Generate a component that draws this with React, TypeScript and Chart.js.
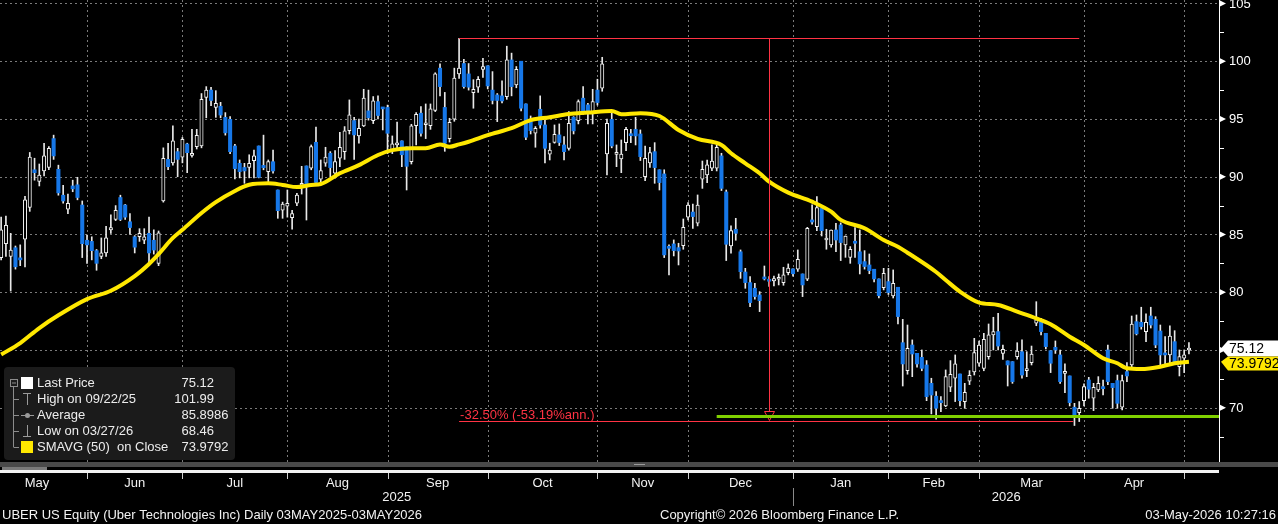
import React, { useEffect, useRef } from 'react';
import { Chart, registerables } from 'chart.js';

Chart.register(...registerables);

// daily OHLC, one entry per trading day (index 0 = first day on screen)
const opens = [
  83.0, 84.2, 83.1, 83.85, 82.9, 84.6, 87.35, 90.6, 89.6, 90.5,
  90.8, 93.3, 90.64, 88.4, 87.2, 89.2, 89.3, 87.55, 84.5, 84.4,
  83.6, 83.1, 83.4, 85.4, 86.3, 88.2, 87.55, 86.1, 84.8, 84.8,
  84.5, 85.1, 84.5, 82.5, 87.9, 91.5, 91.2, 92.17, 91.7, 92.83,
  91.85, 92.6, 92.66, 96.87, 97.5, 96.0, 96.1, 95.14, 94.97, 92.66,
  91.16, 90.8, 90.8, 91.39, 92.66, 90.98, 90.44, 91.3, 88.85, 87.1,
  87.46, 86.45, 87.7, 89.26, 90.93, 90.73, 92.98, 89.78, 91.17, 92.03,
  90.3, 91.6, 92.17, 93.99, 94.86, 93.53, 94.4, 95.7, 94.86, 96.5,
  96.0, 96.0, 92.3, 92.75, 93.1, 92.6, 91.3, 94.43, 95.5, 94.5,
  94.43, 95.73, 99.4, 96.0, 93.3, 94.98, 98.9, 99.8, 98.9, 97.28,
  97.75, 99.3, 99.6, 97.5, 97.08, 97.0, 96.94, 100.11, 97.95, 100.0,
  96.3, 94.77, 93.76, 95.84, 94.48, 91.95, 92.96, 93.62, 92.75, 92.44,
  95.15, 94.86, 96.8, 96.22, 95.44, 97.5, 97.66, 91.97, 94.97, 91.94,
  91.54, 92.95, 93.6, 94.1, 93.7, 90.0, 91.2, 92.17, 90.6, 90.24,
  83.95, 84.18, 83.86, 84.03, 86.49, 86.94, 85.97, 89.78, 90.15, 90.73,
  90.73, 91.8, 88.68, 84.0, 85.45, 83.5, 81.75, 80.83, 80.34, 79.76,
  81.29, 81.05, 80.98, 81.12, 80.83, 81.7, 82.02, 81.99, 81.58, 81.12,
  86.26, 85.68, 87.27, 84.52, 84.09, 85.39, 85.82, 84.09, 83.02, 84.38,
  83.5, 82.65, 82.36, 81.99, 81.15, 80.4, 80.92, 79.68, 80.43, 75.63,
  73.21, 75.43, 74.71, 74.36, 73.7, 72.11, 71.0, 70.58, 70.15, 71.77,
  72.55, 72.92, 70.53, 72.29, 73.09, 73.85, 73.41, 74.42, 76.3, 76.59,
  74.71, 74.05, 73.99, 74.42, 74.85, 73.21, 73.9, 77.31, 77.45, 76.44,
  74.94, 75.23, 74.57, 72.98, 72.75, 70.04, 69.57, 70.61, 72.4, 70.82,
  71.54, 71.74, 75.0, 72.11, 72.35, 70.04, 73.12, 73.7, 77.45, 77.4,
  76.59, 77.94, 77.65, 76.64, 74.71, 74.57, 75.72, 73.56, 74.28, 75.0,
];
const highs = [
  86.5, 86.6, 85.1, 84.0, 84.1, 88.3, 92.1, 91.6, 91.1, 92.9,
  92.6, 93.6, 91.0, 89.25, 88.5, 89.7, 89.95, 87.9, 84.95, 84.8,
  83.7, 84.7, 85.7, 86.7, 87.5, 88.4, 87.6, 86.8, 84.9, 85.5,
  85.5, 86.5, 85.4, 85.3, 92.5, 92.9, 94.4, 92.46, 93.4, 92.9,
  94.1, 94.1, 97.2, 97.8, 97.74, 97.45, 96.44, 95.55, 95.2, 92.8,
  91.45, 91.16, 91.9, 92.3, 92.66, 93.6, 91.45, 92.3, 88.85, 87.8,
  88.85, 87.1, 88.56, 90.9, 90.93, 92.75, 94.3, 91.45, 92.55, 92.17,
  92.26, 93.85, 94.34, 96.65, 95.15, 94.98, 97.57, 97.5, 96.94, 97.0,
  96.0, 96.2, 93.53, 94.74, 93.1, 92.6, 94.54, 95.55, 96.07, 96.3,
  96.3, 99.0, 99.77, 97.3, 95.06, 99.4, 101.99, 100.17, 99.8, 98.4,
  98.67, 100.26, 99.6, 99.1, 97.2, 98.3, 101.3, 100.7, 99.54, 100.0,
  96.3, 95.26, 94.34, 97.0, 94.9, 92.9, 94.48, 94.57, 93.47, 95.64,
  95.2, 96.65, 97.8, 96.36, 97.57, 98.44, 100.34, 94.98, 95.5, 92.75,
  93.18, 94.28, 94.1, 95.14, 94.05, 92.66, 92.55, 92.95, 90.6, 90.6,
  84.1, 84.53, 84.24, 86.34, 87.76, 87.64, 88.42, 91.36, 91.45, 92.75,
  92.75, 92.03, 88.85, 85.74, 86.4, 83.66, 82.07, 81.35, 80.77, 80.05,
  82.27, 81.35, 81.4, 81.58, 82.16, 82.45, 82.02, 83.66, 81.58, 85.62,
  87.56, 88.28, 87.27, 85.45, 85.39, 85.97, 86.0, 84.87, 83.95, 85.6,
  85.39, 83.6, 83.31, 81.99, 81.15, 82.07, 82.07, 81.93, 80.43, 77.65,
  77.16, 75.87, 74.71, 75.0, 74.08, 72.55, 71.39, 70.96, 73.27, 74.08,
  74.57, 72.92, 72.11, 73.21, 76.01, 75.78, 76.44, 77.25, 77.83, 78.17,
  75.43, 74.05, 73.99, 75.63, 75.87, 74.85, 75.34, 79.18, 77.74, 76.44,
  74.94, 75.78, 75.0, 73.79, 72.75, 70.38, 70.53, 72.06, 72.63, 72.11,
  72.69, 72.4, 75.43, 72.11, 72.83, 72.83, 73.9, 77.94, 78.03, 78.7,
  78.12, 78.7, 77.88, 77.16, 76.15, 77.08, 76.67, 75.0, 75.0, 75.63,
];
const lows = [
  82.8, 83.1, 80.1, 82.0, 82.3, 82.2, 87.0, 89.7, 89.2, 90.06,
  90.6, 91.5, 88.4, 87.7, 86.8, 88.7, 88.0, 83.0, 82.5, 82.8,
  81.9, 82.9, 83.1, 85.1, 86.2, 86.2, 86.3, 85.0, 83.4, 84.4,
  84.2, 82.35, 83.3, 82.3, 87.8, 90.6, 91.0, 90.0, 91.2, 90.35,
  91.7, 92.4, 92.5, 95.1, 96.15, 95.14, 95.1, 93.6, 92.0, 89.8,
  89.9, 89.43, 89.9, 89.9, 89.9, 90.6, 89.4, 90.3, 86.4, 86.4,
  86.5, 85.45, 87.5, 88.5, 86.25, 90.6, 89.3, 89.5, 90.9, 90.0,
  89.87, 90.88, 91.5, 93.7, 91.5, 92.9, 94.34, 94.9, 94.6, 95.0,
  94.05, 92.0, 92.0, 92.5, 90.88, 88.85, 91.1, 92.75, 93.5, 93.3,
  94.1, 95.64, 97.0, 92.2, 93.0, 94.8, 98.5, 97.66, 97.5, 95.93,
  97.3, 98.6, 97.6, 96.3, 94.77, 96.4, 96.7, 97.0, 97.7, 95.7,
  93.2, 93.7, 92.55, 94.2, 91.2, 91.45, 92.9, 92.7, 91.45, 92.3,
  93.7, 94.57, 95.4, 94.57, 94.57, 96.2, 97.4, 90.16, 92.5, 90.87,
  90.35, 92.25, 92.95, 92.75, 91.4, 89.66, 90.8, 89.43, 88.85, 83.0,
  81.5, 83.14, 82.36, 83.72, 86.25, 85.53, 85.74, 88.99, 89.49, 90.53,
  90.5, 88.8, 82.74, 83.37, 84.5, 81.2, 80.34, 78.75, 79.4, 78.32,
  81.06, 80.5, 80.54, 80.63, 80.6, 81.5, 81.4, 81.8, 79.62, 81.0,
  85.9, 85.33, 84.87, 83.72, 83.9, 83.5, 82.74, 83.02, 82.5, 83.02,
  81.58, 82.0, 81.6, 80.9, 79.5, 80.2, 79.8, 79.5, 77.25, 71.88,
  72.9, 72.69, 73.5, 73.2, 70.61, 69.46, 69.0, 69.66, 70.09, 71.39,
  70.53, 70.15, 69.95, 72.0, 72.83, 73.6, 73.2, 74.2, 75.0, 75.0,
  74.19, 71.88, 72.11, 74.2, 72.55, 72.69, 73.7, 77.1, 76.3, 75.1,
  73.04, 74.7, 72.11, 71.3, 70.15, 68.46, 68.8, 70.15, 70.82, 69.75,
  71.39, 71.1, 72.0, 69.95, 69.95, 69.81, 72.26, 73.5, 76.3, 76.8,
  75.72, 76.9, 75.2, 73.7, 73.7, 73.7, 73.8, 72.75, 73.04, 74.65,
];
const closes = [
  85.4, 85.8, 83.65, 82.2, 82.8, 88.0, 91.7, 90.35, 90.15, 91.8,
  92.46, 91.8, 88.6, 87.9, 87.7, 88.95, 88.2, 84.2, 84.1, 83.6,
  82.5, 83.4, 84.7, 85.6, 87.1, 86.3, 86.5, 85.6, 83.9, 85.1,
  84.8, 83.4, 83.65, 85.15, 91.6, 90.87, 93.1, 91.5, 93.24, 92.08,
  92.0, 93.58, 96.7, 97.5, 96.6, 96.35, 95.34, 93.8, 92.17, 90.7,
  90.44, 90.5, 91.16, 91.8, 89.95, 90.78, 91.3, 90.5, 87.06, 87.64,
  87.7, 86.8, 88.4, 89.4, 89.3, 92.6, 89.5, 90.53, 91.7, 90.79,
  91.3, 92.55, 93.97, 95.35, 93.62, 94.2, 96.8, 95.1, 96.56, 95.3,
  95.87, 93.76, 92.84, 92.9, 91.9, 90.9, 94.4, 95.4, 93.76, 94.63,
  95.87, 98.9, 97.8, 92.9, 94.7, 98.53, 99.4, 97.8, 97.75, 97.57,
  98.44, 99.54, 97.86, 96.6, 96.6, 96.56, 100.11, 97.8, 99.3, 95.93,
  93.42, 93.99, 94.2, 94.48, 92.46, 92.3, 93.68, 92.96, 92.17, 94.63,
  93.97, 96.5, 95.64, 95.64, 96.5, 96.42, 99.77, 94.63, 92.66, 92.12,
  91.97, 94.1, 93.55, 93.53, 91.74, 91.6, 92.1, 90.79, 89.49, 83.23,
  83.8, 83.6, 83.57, 85.62, 87.55, 86.55, 87.55, 90.64, 91.02, 91.36,
  92.55, 88.99, 84.15, 85.33, 85.1, 81.78, 80.83, 79.1, 79.62, 79.27,
  81.15, 80.95, 81.18, 81.26, 81.5, 82.1, 81.6, 82.85, 80.63, 85.54,
  86.08, 87.32, 85.33, 84.67, 85.39, 84.52, 84.3, 84.87, 83.72, 84.24,
  82.45, 82.22, 81.87, 81.15, 79.7, 81.64, 79.97, 80.77, 77.89, 73.79,
  75.14, 74.65, 73.79, 73.41, 70.96, 71.1, 69.95, 70.44, 72.69, 72.89,
  73.79, 70.61, 71.33, 72.81, 74.77, 75.43, 75.92, 76.3, 76.59, 75.34,
  75.06, 73.7, 72.26, 74.91, 72.83, 73.33, 74.65, 77.6, 76.59, 75.29,
  73.85, 75.0, 72.26, 73.0, 70.44, 69.29, 69.95, 71.82, 71.6, 71.77,
  72.11, 71.65, 72.26, 71.74, 70.38, 72.35, 72.75, 77.25, 76.4, 77.02,
  77.4, 77.16, 75.43, 74.57, 74.57, 76.21, 73.99, 74.42, 74.57, 75.12,
];

// 50-day simple moving average, read at selected days
const smaDays = [
  0, 4, 8, 12, 18, 23, 28, 31, 33, 36, 38, 42, 45, 49, 52, 56, 59, 62, 65, 67,
  71, 75, 79, 82, 86, 89, 92, 94, 96, 98, 102, 107, 111, 115, 119, 123, 128, 130, 134, 138,
  142, 146, 151, 153, 156, 159, 161, 165, 170, 174, 176, 181, 185, 188, 190, 196, 198, 201, 205, 209,
  213, 217, 220, 224, 227, 231, 234, 236, 239, 243, 246, 249,
];
const smaValues = [
  74.6, 75.6, 76.9, 78.0, 79.4, 80.13, 81.4, 82.45, 83.3, 84.7, 85.4, 86.86, 87.8, 88.77, 89.3, 89.43, 89.29, 89.1, 89.29, 89.37,
  90.3, 91.0, 91.88, 92.3, 92.46, 92.46, 92.8, 92.6, 92.8, 93.03, 93.6, 94.2, 94.9, 95.15, 95.43, 95.55, 95.7, 95.4, 95.5, 95.26,
  94.05, 93.27, 92.75, 92.03, 91.16, 90.3, 89.57, 88.62, 87.84, 86.97, 86.26, 85.54, 84.52, 83.94, 83.42, 81.75, 81.06, 80.05, 79.1, 78.9,
  78.32, 77.74, 77.23, 76.15, 75.43, 74.28, 73.85, 73.41, 73.35, 73.55, 73.85, 73.98,
];

// first trading day of each month (index), labels
const monthStarts = [-3, 18, 38, 60, 81, 102, 125, 144, 166, 186, 205, 227, 248];
const monthNames = ['May', 'Jun', 'Jul', 'Aug', 'Sep', 'Oct', 'Nov', 'Dec', 'Jan', 'Feb', 'Mar', 'Apr', 'May'];
const yearNames = ['2025', '2026'];
const yearBreak = 166;

const priceTicks = [70, 75, 80, 85, 90, 95, 100, 105];
const minorTicks = [67.5, 72.5, 77.5, 82.5, 87.5, 92.5, 97.5, 102.5];

const lastPrice = 75.12;
const smaLast = 73.9792;
const highValue = 101.99;
const highDay = 96;
const annotEnd = 226;
const lowLineValue = 68.84;
const changeText = '-32.50% (-53.19%ann.)';
const supportValue = 69.24;
const supportStart = 150;

const legendLabels = ['Last Price', 'High on 09/22/25', 'Average', 'Low on 03/27/26', 'SMAVG (50)  on Close'];
const legendValues = ['75.12', '101.99', '85.8986', '68.46', '73.9792'];

const titleText = 'UBER US Equity (Uber Technologies Inc) Daily 03MAY2025-03MAY2026';
const copyrightText = 'Copyright\u00a9 2026 Bloomberg Finance L.P.';
const stampText = '03-May-2026 10:27:16';

const FONT = '"Liberation Sans", Arial, sans-serif';
const RED = '#ff3344';
const YELLOW = '#ffe800';
const BLUE = '#1677e8';

function seg(ctx: CanvasRenderingContext2D, x1: number, y1: number, x2: number, y2: number) {
  ctx.beginPath();
  ctx.moveTo(x1, y1);
  ctx.lineTo(x2, y2);
  ctx.stroke();
}

const bloombergPlugin = {
  id: 'bloomberg',
  beforeDraw(chart: any) {
    const { ctx, width, height } = chart;
    ctx.save();
    ctx.fillStyle = '#000';
    ctx.fillRect(0, 0, width, height);
    ctx.restore();
  },
  beforeDatasetsDraw(chart: any) {
    const { ctx, chartArea: a, scales } = chart;
    const xs = scales.x, ys = scales.y;
    ctx.save();
    ctx.strokeStyle = '#7a7a7a';
    ctx.lineWidth = 1;
    ctx.setLineDash([2, 3]);
    priceTicks.forEach((v) => {
      const py = Math.round(ys.getPixelForValue(v)) + 0.5;
      seg(ctx, a.left, py, a.right, py);
    });
    monthStarts.forEach((d) => {
      const px = Math.round(xs.getPixelForValue(d)) + 0.5;
      if (px < a.left) return;
      seg(ctx, px, a.top, px, a.bottom);
    });
    ctx.restore();
  },
  afterDraw(chart: any) {
    const { ctx, chartArea: a, scales, width } = chart;
    const xs = scales.x, ys = scales.y;
    ctx.save();

    // high / low annotation
    const hiY = Math.round(ys.getPixelForValue(highValue)) + 0.5;
    const loY = Math.round(ys.getPixelForValue(lowLineValue)) + 0.5;
    const x1 = xs.getPixelForValue(highDay);
    const x2 = xs.getPixelForValue(annotEnd);
    const xm = Math.round(xs.getPixelForValue((highDay + annotEnd) / 2)) + 0.5;
    ctx.strokeStyle = RED;
    ctx.lineWidth = 1.2;
    seg(ctx, x1, hiY, x2, hiY);
    seg(ctx, x1, loY, x2 - 6, loY);
    ctx.lineWidth = 1;
    seg(ctx, xm, hiY, xm, loY - 10);
    ctx.beginPath();
    ctx.moveTo(xm - 5, loY - 10);
    ctx.lineTo(xm + 5, loY - 10);
    ctx.lineTo(xm, loY - 1);
    ctx.closePath();
    ctx.stroke();
    ctx.fillStyle = RED;
    ctx.font = `13px ${FONT}`;
    ctx.textBaseline = 'middle';
    ctx.textAlign = 'left';
    ctx.fillText(changeText, x1 + 1, loY - 6);

    // support line
    const sy = ys.getPixelForValue(supportValue);
    ctx.strokeStyle = '#80d000';
    ctx.lineWidth = 3;
    seg(ctx, xs.getPixelForValue(supportStart), sy, a.right, sy);

    // right axis
    const r = a.right;
    ctx.strokeStyle = '#ffffff';
    ctx.fillStyle = '#ffffff';
    ctx.lineWidth = 1;
    seg(ctx, r + 0.5, 0, r + 0.5, a.bottom);
    minorTicks.forEach((v) => {
      const py = Math.round(ys.getPixelForValue(v)) + 0.5;
      seg(ctx, r, py, r + 5, py);
    });
    ctx.font = `13px ${FONT}`;
    ctx.textAlign = 'left';
    priceTicks.forEach((v) => {
      const py = ys.getPixelForValue(v);
      ctx.beginPath();
      ctx.moveTo(r, py - 3.5);
      ctx.lineTo(r + 7, py);
      ctx.lineTo(r, py + 3.5);
      ctx.closePath();
      ctx.fill();
      ctx.fillText(String(v), r + 10, py + 0.5);
    });

    // value tags
    const ly = ys.getPixelForValue(lastPrice);
    ctx.fillStyle = '#ffffff';
    ctx.beginPath();
    ctx.moveTo(r + 2, ly);
    ctx.lineTo(r + 9, ly - 8);
    ctx.lineTo(width, ly - 8);
    ctx.lineTo(width, ly + 8);
    ctx.lineTo(r + 9, ly + 8);
    ctx.closePath();
    ctx.fill();
    const my = ys.getPixelForValue(smaLast);
    ctx.fillStyle = YELLOW;
    ctx.beginPath();
    ctx.moveTo(r + 2, my);
    ctx.lineTo(r + 9, ly + 8);
    ctx.lineTo(width, ly + 8);
    ctx.lineTo(width, ly + 22);
    ctx.lineTo(r + 9, ly + 22);
    ctx.closePath();
    ctx.fill();
    ctx.fillStyle = '#000';
    ctx.font = `14px ${FONT}`;
    ctx.fillText(lastPrice.toFixed(2), r + 10, ly + 0.5);
    ctx.fillText(smaLast.toFixed(4), r + 10, ly + 15.5);

    // bottom axis band
    const b = a.bottom;
    ctx.fillStyle = '#4a4a4a';
    ctx.fillRect(0, b, width, 5);
    ctx.fillStyle = '#7a7a7a';
    ctx.fillRect(2, b + 5, 45, 3);
    ctx.fillStyle = '#f2f2f2';
    ctx.fillRect(0, b + 8, r, 3);
    ctx.strokeStyle = '#9a9a9a';
    seg(ctx, 634, b + 2.5, 645, b + 2.5);

    ctx.strokeStyle = '#d0d0d0';
    ctx.lineWidth = 1;
    monthStarts.forEach((d) => {
      const px = Math.round(xs.getPixelForValue(d)) + 0.5;
      if (px < 0) return;
      seg(ctx, px, b + 11, px, b + 17);
    });
    ctx.fillStyle = '#f2f2f2';
    ctx.font = `13px ${FONT}`;
    ctx.textAlign = 'center';
    for (let k = 0; k < monthNames.length - 1; k++) {
      const mx = (xs.getPixelForValue(monthStarts[k]) + xs.getPixelForValue(monthStarts[k + 1])) / 2;
      ctx.fillText(monthNames[k], mx, b + 21);
    }
    const yb = Math.round(xs.getPixelForValue(yearBreak)) + 0.5;
    ctx.strokeStyle = '#8a8a8a';
    seg(ctx, yb, b + 26, yb, b + 44);
    ctx.fillText(yearNames[0], (a.left + yb) / 2, b + 35);
    ctx.fillText(yearNames[1], (yb + r) / 2, b + 35);

    ctx.textAlign = 'left';
    ctx.fillText(titleText, 2, b + 53);
    ctx.fillText(copyrightText, 660, b + 53);
    ctx.textAlign = 'right';
    ctx.fillText(stampText, width - 2, b + 53);

    // legend box
    ctx.fillStyle = '#1b1b1b';
    ctx.beginPath();
    ctx.roundRect(4, 367, 231, 93, 4);
    ctx.fill();
    const rowY = [383, 399, 415, 431, 447];
    ctx.strokeStyle = '#8c8c8c';
    ctx.lineWidth = 1;
    ctx.strokeRect(10.5, 379.5, 7, 7);
    seg(ctx, 12, 383, 16, 383);
    seg(ctx, 13.5, 387, 13.5, rowY[4]);
    rowY.slice(1).forEach((ry) => seg(ctx, 13.5, ry + 0.5, 19, ry + 0.5));
    ctx.fillStyle = '#ffffff';
    ctx.fillRect(21, 377, 12, 12);
    ctx.fillStyle = YELLOW;
    ctx.fillRect(21, 441, 12, 12);
    ctx.strokeStyle = '#9a9a9a';
    seg(ctx, 23, 393.5, 31, 393.5);
    seg(ctx, 27.5, 393, 27.5, 405);
    seg(ctx, 21, 415.5, 34, 415.5);
    ctx.fillStyle = '#9a9a9a';
    ctx.beginPath();
    ctx.arc(27.5, 415.5, 2.5, 0, Math.PI * 2);
    ctx.fill();
    seg(ctx, 27.5, 425, 27.5, 436);
    seg(ctx, 23, 436.5, 31, 436.5);

    ctx.fillStyle = '#ececec';
    ctx.font = `13px ${FONT}`;
    ctx.textAlign = 'left';
    legendLabels.forEach((t, k) => ctx.fillText(t, 37, rowY[k] + 0.5));
    legendValues.forEach((t, k) => {
      const intPart = t.split('.')[0];
      ctx.fillText(t, 196 - ctx.measureText(intPart).width, rowY[k] + 0.5);
    });

    ctx.restore();
  },
};

export default function App() {
  const canvasRef = useRef<HTMLCanvasElement>(null);

  useEffect(() => {
    if (!canvasRef.current) return;
    const ctx = canvasRef.current.getContext('2d');
    if (!ctx) return;

    const days = opens.map((_, i) => i);
    const wicks = days.map((i) => ({ x: i, y: [lows[i], highs[i]] }));
    const upBodies = days.filter((i) => closes[i] >= opens[i]).map((i) => ({ x: i, y: [opens[i], closes[i]] }));
    const downBodies = days.filter((i) => closes[i] < opens[i]).map((i) => ({ x: i, y: [opens[i], closes[i]] }));
    const sma = smaDays.map((d, k) => ({ x: d, y: smaValues[k] }));

    const chart = new Chart(ctx, {
      type: 'bar',
      data: {
        datasets: [
          {
            type: 'line',
            data: sma,
            borderColor: YELLOW,
            borderWidth: 4,
            pointRadius: 0,
            cubicInterpolationMode: 'monotone',
            order: 0,
          } as any,
          {
            data: upBodies,
            backgroundColor: '#000',
            borderColor: '#f4f4f4',
            borderWidth: 1,
            borderSkipped: false,
            barThickness: 3.4,
            minBarLength: 2,
            grouped: false,
            order: 1,
          },
          {
            data: downBodies,
            backgroundColor: BLUE,
            borderWidth: 0,
            barThickness: 3.4,
            minBarLength: 2,
            grouped: false,
            order: 1,
          },
          {
            data: wicks,
            backgroundColor: '#e8e8e8',
            borderWidth: 0,
            barThickness: 1,
            grouped: false,
            order: 2,
          },
        ],
      },
      options: {
        animation: false,
        responsive: false,
        events: [],
        layout: { padding: { left: 0, right: 59, top: 0, bottom: 62 } },
        plugins: { legend: { display: false }, tooltip: { enabled: false } },
        scales: {
          x: { type: 'linear', display: false, offset: false, min: -0.24, max: 255.3 },
          y: { type: 'linear', display: false, min: 65.3, max: 105.3 },
        },
      },
      plugins: [bloombergPlugin],
    } as any);

    return () => {
      chart.destroy();
    };
  }, []);

  return (
    <div style={{ position: 'fixed', left: 0, top: 0, width: 1278, height: 524, background: '#000' }}>
      <canvas ref={canvasRef} width={1278} height={524} style={{ display: 'block', width: 1278, height: 524 }} />
    </div>
  );
}
